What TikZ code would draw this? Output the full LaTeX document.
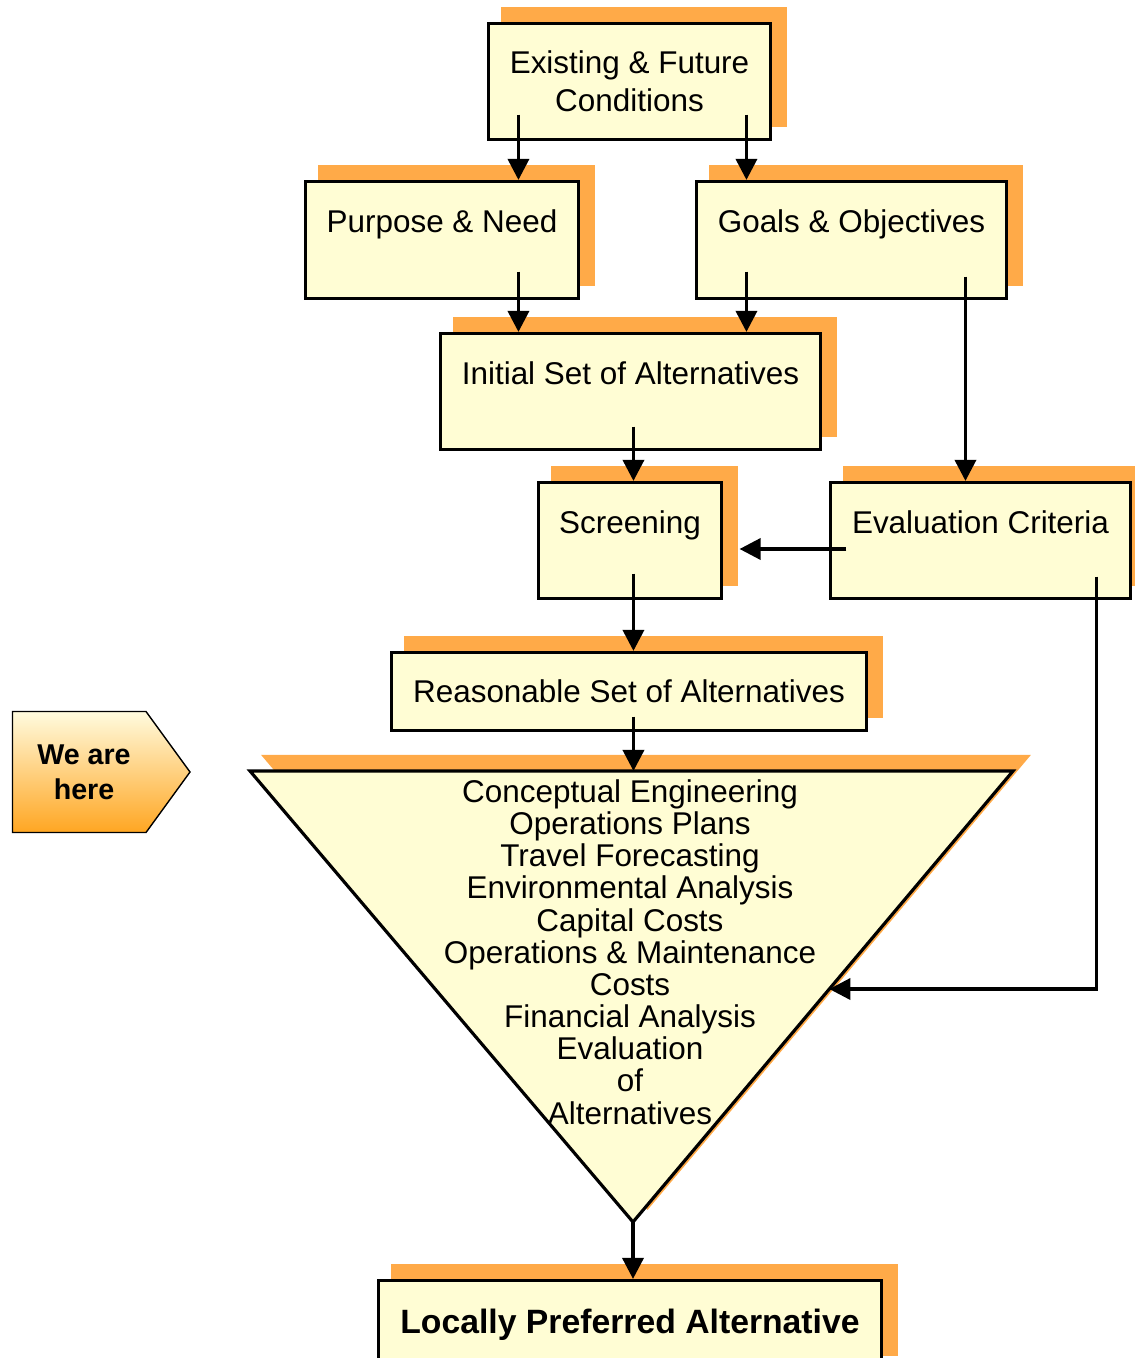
\documentclass[tikz,border=0pt]{standalone}
\usepackage{fontspec}
\setmainfont{Liberation Sans}
\usetikzlibrary{arrows.meta,calc,shadows}
\definecolor{boxyellow}{RGB}{255,253,212}
\definecolor{shadeorange}{RGB}{255,170,72}
\definecolor{herelight}{RGB}{255,251,222}
\definecolor{heredark}{RGB}{255,166,34}

\begin{document}
\begin{tikzpicture}[
	x=0.02cm, y=-0.02cm,
	stepbox/.style={
		rectangle,
		draw=black,
		line width=1.8pt,
		fill=boxyellow,
		inner sep=0pt,
		align=center,
		font=\fontsize{17.9}{21.4}\selectfont,
		drop shadow={shadow xshift=0.29cm, shadow yshift=0.29cm,
			fill=shadeorange, draw=shadeorange, line width=1.8pt, opacity=1}},
	myarrow/.style={-{Triangle[length=12pt,width=12pt]}, line width=2pt}
	]
	\useasboundingbox (0,0) rectangle (1134,1358);

	\node[stepbox, minimum width=5.64cm, minimum height=2.32cm] (E) at (629.5,81.5) {Existing \& Future\\Conditions};
	\node[stepbox, minimum width=5.46cm, minimum height=2.34cm] (P) at (442,240) {Purpose \& Need\\\mbox{}};
	\node[stepbox, minimum width=6.2cm, minimum height=2.34cm] (G) at (851.5,240) {Goals \& Objectives\\\mbox{}};
	\node[stepbox, minimum width=7.6cm, minimum height=2.32cm] (I) at (630.5,391.5) {Initial Set of Alternatives\\\mbox{}};
	\node[stepbox, minimum width=3.66cm, minimum height=2.32cm] (S) at (630,540.5) {Screening\\\mbox{}};
	\node[stepbox, minimum width=6cm, minimum height=2.32cm] (EC) at (980.5,540.5) {Evaluation Criteria\\\mbox{}};
	\node[stepbox, minimum width=9.5cm, minimum height=1.56cm] (R) at (629,691.5) {Reasonable Set of Alternatives};
	\node[stepbox, minimum width=10.06cm, minimum height=1.76cm, font=\bfseries\fontsize{19.2}{23}\selectfont] (L) at (630,1324.5) {Locally Preferred Alternative};

	% funnel of studies
	\coordinate (tl) at (250,771);
	\coordinate (tr) at (1013,771);
	\coordinate (tb) at (633,1222);
	\coordinate (tin) at ($(tr)!0.4834!(tb)$);
	\filldraw[shadeorange, line width=1.8pt] ($(tl)+(14.5,-14.5)$) -- ($(tr)+(14.5,-14.5)$) -- ($(tb)+(14.5,-14.5)$) -- cycle;
	\draw[line width=1.8pt, fill=boxyellow] (tl) -- (tr) -- (tb) -- cycle;
	\node[align=center, font=\fontsize{17.9}{18.3}\selectfont] (T) at (630,952) {Conceptual Engineering\\Operations Plans\\Travel Forecasting\\Environmental Analysis\\Capital Costs\\Operations \& Maintenance\\Costs\\Financial Analysis\\Evaluation\\of\\Alternatives};

	% marker
	\draw[line width=0.8pt, top color=herelight, bottom color=heredark] (12.5,711.5) -- (146,711.5) -- (190,772) -- (146,832.5) -- (12.5,832.5) -- cycle;
	\node[align=center, font=\bfseries\fontsize{16.3}{19.8}\selectfont] (here) at (84,772) {We are\\here};

	\foreach \a/\dx/\dy/\b in {% start node/shift/end node
		E/31.5/-26.5/P,
		E/259.5/-26.5/G,
		P/214.5/-28.5/I,
		G/51.5/-28.5/I,
		G/270.5/-23.5/EC,
		I/194.5/-24.5/S,
		S/96.5/-26.5/R}
		\draw[myarrow] (\a.south west) ++(\dx,\dy) coordinate (s) -- (s |- \b.north);

	\draw[myarrow] (R.south west) ++(243.5,-15.5) coordinate (s) -- (s |- tl);
	\draw[myarrow] (tb) -- (tb |- L.north);
	\draw[myarrow] (EC.west) ++(17.5,8.5) coordinate (s) -- ($(S.east |- s)+(16.5,0)$);
	\draw[myarrow] (EC.south east) ++(-35.5,-23.5) coordinate (s) -- (s |- tin) -- (tin);
\end{tikzpicture}
\end{document}
